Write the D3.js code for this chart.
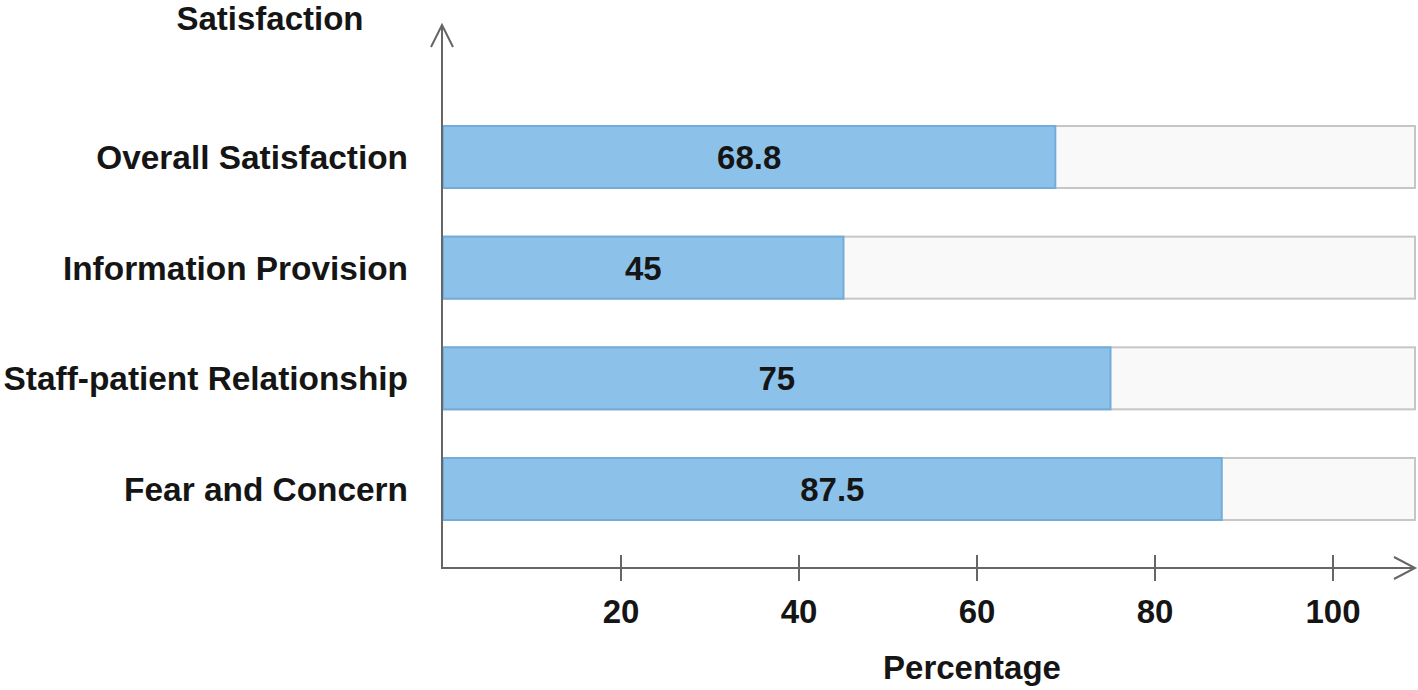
<!DOCTYPE html>
<html>
<head>
<meta charset="utf-8">
<script src="https://cdn.jsdelivr.net/npm/d3@7"></script>
<style>
  body { margin: 0; background: #fff; }
  svg text { font-family: "Liberation Sans", Arial, sans-serif; font-weight: bold; fill: #151515; }
</style>
</head>
<body>
<svg id="chart" width="1418" height="690"></svg>
<script>
// Daten
const categories = ["Overall Satisfaction", "Information Provision", "Staff-patient Relationship", "Fear and Concern"];
const values = [68.8, 45, 75, 87.5];
const tickValues = [20, 40, 60, 80, 100];

// SVG Konfiguration
const svg = d3.select("#chart");
const axisX = 442;
const axisY = 568;
const plotRight = 1415;
const axisTop = 25;
const fontSize = 33;

// Skalen
const x = d3.scaleLinear()
    .domain([0, 100])
    .range([axisX + 1, 1333]);

const y = d3.scalePoint()
    .domain(categories)
    .range([157, 489]);

const barHeight = 62;

// Hintergrund-Balken
svg.append("g").selectAll("rect")
    .data(categories)
    .join("rect")
    .attr("x", x(0))
    .attr("y", d => y(d) - barHeight / 2)
    .attr("width", plotRight - x(0))
    .attr("height", barHeight)
    .attr("fill", "#f9f9f9")
    .attr("stroke", "#c6c6c6")
    .attr("stroke-width", 2);

// Werte-Balken
svg.append("g").selectAll("rect")
    .data(values)
    .join("rect")
    .attr("x", x(0))
    .attr("y", (d, i) => y(categories[i]) - barHeight / 2)
    .attr("width", d => x(d) - x(0))
    .attr("height", barHeight)
    .attr("fill", "#8cc2ea")
    .attr("stroke", "#74acd9")
    .attr("stroke-width", 2);

// Werte-Beschriftung
svg.append("g").selectAll("text")
    .data(values)
    .join("text")
    .attr("x", d => (x(0) + x(d)) / 2)
    .attr("y", (d, i) => y(categories[i]))
    .attr("dy", "0.36em")
    .attr("text-anchor", "middle")
    .attr("font-size", fontSize)
    .text(d => d);

// Kategorien
svg.append("g").selectAll("text")
    .data(categories)
    .join("text")
    .attr("x", 408)
    .attr("y", d => y(d))
    .attr("dy", "0.36em")
    .attr("text-anchor", "end")
    .attr("font-size", 33.4)
    .text(d => d);

// Achsen
const axisColor = "#666";
svg.append("line")
    .attr("x1", axisX).attr("y1", axisY)
    .attr("x2", axisX).attr("y2", axisTop)
    .attr("stroke", axisColor).attr("stroke-width", 2);
svg.append("line")
    .attr("x1", axisX - 1).attr("y1", axisY)
    .attr("x2", plotRight).attr("y2", axisY)
    .attr("stroke", axisColor).attr("stroke-width", 2);

// Pfeilspitzen
svg.append("polyline")
    .attr("points", `${axisX - 11},${axisTop + 22} ${axisX},${axisTop} ${axisX + 11},${axisTop + 22}`)
    .attr("fill", "none").attr("stroke", axisColor).attr("stroke-width", 2);
svg.append("polyline")
    .attr("points", `${plotRight - 21},${axisY - 11} ${plotRight},${axisY} ${plotRight - 21},${axisY + 11}`)
    .attr("fill", "none").attr("stroke", axisColor).attr("stroke-width", 2);

// Ticks
const ticks = svg.append("g");
tickValues.forEach(t => {
    ticks.append("line")
        .attr("x1", x(t)).attr("y1", axisY - 13)
        .attr("x2", x(t)).attr("y2", axisY + 13)
        .attr("stroke", axisColor).attr("stroke-width", 2);
    ticks.append("text")
        .attr("x", x(t))
        .attr("y", 623)
        .attr("text-anchor", "middle")
        .attr("font-size", fontSize)
        .text(t);
});

// Achsentitel
svg.append("text")
    .attr("x", 972).attr("y", 679)
    .attr("text-anchor", "middle")
    .attr("font-size", fontSize)
    .text("Percentage");

svg.append("text")
    .attr("x", 270).attr("y", 30)
    .attr("text-anchor", "middle")
    .attr("font-size", fontSize)
    .text("Satisfaction");
</script>
</body>
</html>
